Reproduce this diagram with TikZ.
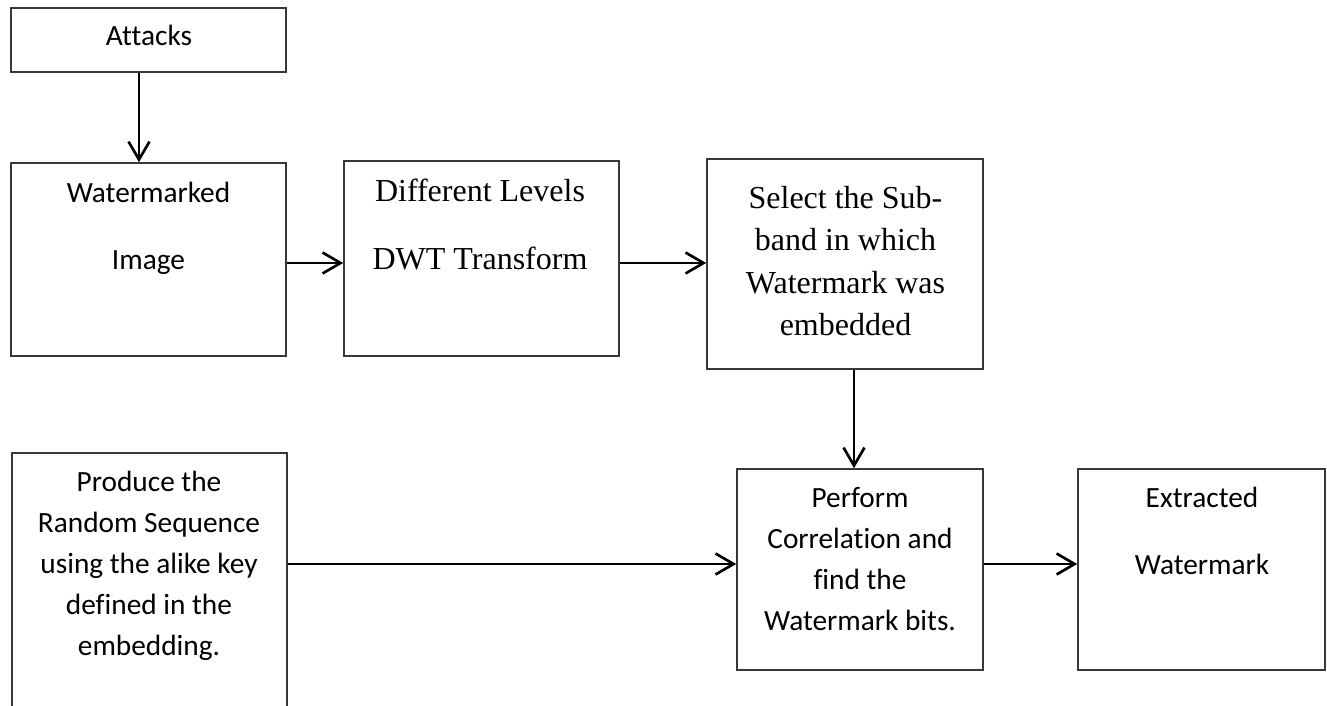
\documentclass[tikz,border=0pt]{standalone}
\usepackage{fontspec}
\setmainfont{Carlito}[Ligatures=NoCommon]
\newfontfamily\timesfont{Liberation Serif}
\usetikzlibrary{arrows.meta}
\newcommand{\ctext}[1]{\parbox[t]{250pt}{\centering #1}}
\begin{document}
\begin{tikzpicture}[x=0.75pt,y=-0.75pt,
  blk/.style={draw=black!78, line width=1.2pt, inner sep=0pt},
  cal/.style={inner sep=0pt, anchor=base, font=\fontsize{22}{30.75}\selectfont},
  tms/.style={inner sep=0pt, anchor=base, font=\timesfont\fontsize{24}{31.5}\selectfont},
  arr/.style={line width=2pt, -{Straight Barb[length=13.5pt,width=15.75pt]}}]
\useasboundingbox (0,0) rectangle (1327,706);
\clip (0,0) rectangle (1327,706);
% boxes
\node[blk, minimum width=206.25pt, minimum height=48pt] (attacks) at (148.5,40) {};
\node[blk, minimum width=206.25pt, minimum height=144.75pt] (wimg) at (148.5,259.5) {};
\node[blk, minimum width=206.25pt, minimum height=146.25pt] (dwt) at (481.5,258.5) {};
\node[blk, minimum width=207pt, minimum height=157.5pt] (sel) at (845,264) {};
\node[blk, minimum width=206.25pt, minimum height=260.25pt] (prod) at (149.5,626.5) {};
\node[blk, minimum width=184.5pt, minimum height=150.75pt] (perf) at (860,569.5) {};
\node[blk, minimum width=185.25pt, minimum height=150.75pt] (ext) at (1201.5,569.5) {};
% texts
\node[cal] (tatt) at (149,46) {\ctext{Attacks}};
\node[cal] (twimg) at (148.5,202) {\ctext{Watermarked\\[19.9pt]Image}};
\node[tms] (tdwt) at (480,201) {\ctext{Different Levels\\[19.5pt]DWT Transform}};
\node[tms] (tsel) at (845.5,209) {\ctext{Select the Sub-\\band in which\\Watermark was\\embedded}};
\node[cal] (tprod) at (149,491) {\ctext{Produce the\\Random Sequence\\using the alike key\\defined in the\\embedding.}};
\node[cal] (tperf) at (860,507) {\ctext{Perform\\Correlation and\\find the\\Watermark bits.}};
\node[cal] (text) at (1202,507) {\ctext{Extracted\\[19.9pt]Watermark}};
% connector guides
\coordinate (ca) at (139,0);
\coordinate (cb) at (0,263);
\coordinate (cc) at (854,0);
\coordinate (cd) at (0,564);
% connectors
\draw[arr] (attacks.south -| ca) -- (wimg.north -| ca);
\draw[arr] (wimg.east |- cb) -- (dwt.west |- cb);
\draw[arr] (dwt.east |- cb) -- (sel.west |- cb);
\draw[arr] (sel.south -| cc) -- (perf.north -| cc);
\draw[arr] (prod.east |- cd) -- (perf.west |- cd);
\draw[arr] (perf.east |- cd) -- (ext.west |- cd);
\end{tikzpicture}
\end{document}
